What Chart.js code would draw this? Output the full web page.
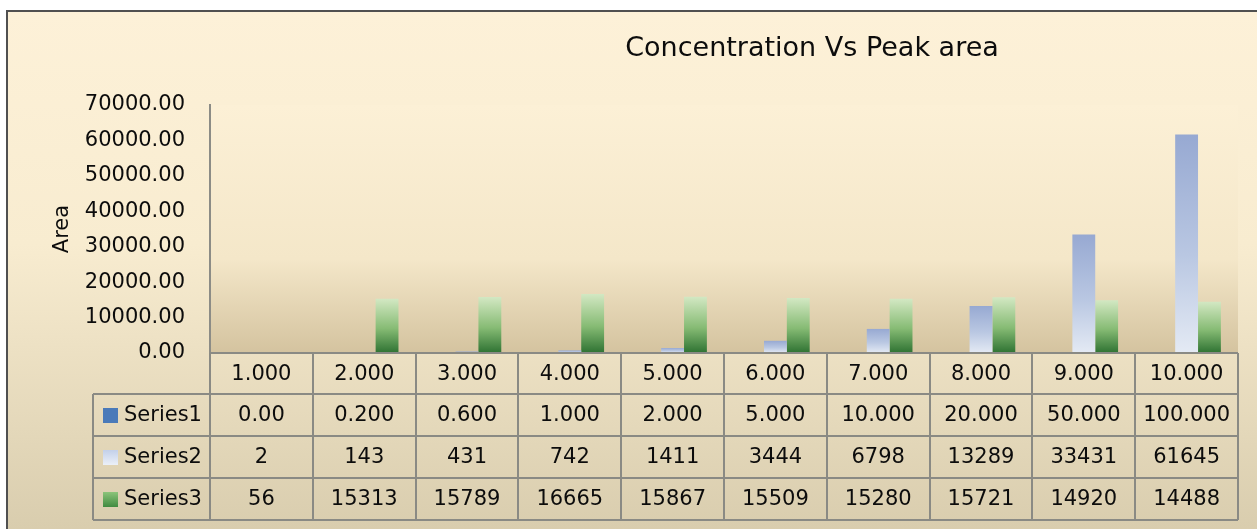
<!DOCTYPE html>
<html>
<head>
<meta charset="utf-8">
<title>Concentration Vs Peak area</title>
<script src="https://cdn.jsdelivr.net/npm/chart.js@4.4.1/dist/chart.umd.min.js"></script>
<style>
  html, body { margin: 0; padding: 0; background: #ffffff; }
  #wrap { width: 1257px; height: 529px; position: relative; }
</style>
</head>
<body>
<div id="wrap"><canvas id="chart" width="1257" height="529"></canvas></div>
<script>
// ---- data ----
const categories = ["1.000", "2.000", "3.000", "4.000", "5.000", "6.000", "7.000", "8.000", "9.000", "10.000"];
const seriesNames = ["Series1", "Series2", "Series3"];
const series1 = [0, 0.2, 0.6, 1, 2, 5, 10, 20, 50, 100];
const series1Text = ["0.00", "0.200", "0.600", "1.000", "2.000", "5.000", "10.000", "20.000", "50.000", "100.000"];
const series2 = [2, 143, 431, 742, 1411, 3444, 6798, 13289, 33431, 61645];
const series3 = [56, 15313, 15789, 16665, 15867, 15509, 15280, 15721, 14920, 14488];
const yMax = 70000;
const yStep = 10000;
const chartTitle = "Concentration Vs Peak area";
const yTitle = "Area";

const FONT = "'DejaVu Sans', Verdana, sans-serif";
const INK = "#0c0c0c";

// vertical gradient per bar, from its top down to the zero line
function barGradient(top, mid, bottom) {
  return function(ctx) {
    const chart = ctx.chart;
    if (!chart.chartArea || ctx.type !== "data") return bottom;
    const y = chart.scales.y.getPixelForValue(ctx.raw);
    const base = chart.scales.y.getPixelForValue(0);
    if (base - y < 1) return bottom;
    const g = chart.ctx.createLinearGradient(0, y, 0, base);
    g.addColorStop(0, top);
    g.addColorStop(0.55, mid);
    g.addColorStop(1, bottom);
    return g;
  };
}

// swatch colours for the table legend
const swatches = [
  ["#4a7ab9", "#4a7ab9"],
  ["#c3d0e9", "#eef2f9"],
  ["#8cc47a", "#3c873d"]
];

// background + frame + plot area shading
const backdrop = {
  id: "backdrop",
  beforeDraw(chart) {
    const c = chart.ctx, a = chart.chartArea;
    c.save();
    c.fillStyle = "#ffffff";
    c.fillRect(0, 0, chart.width, chart.height);
    const g = c.createLinearGradient(0, 11, 0, chart.height);
    g.addColorStop(0, "#fdf1d8");
    g.addColorStop(0.45, "#f8ecd0");
    g.addColorStop(1, "#d9cdae");
    c.fillStyle = g;
    c.fillRect(7, 11, chart.width - 7, chart.height - 11);
    // plot area gets its own darker foot
    const p = c.createLinearGradient(0, a.top, 0, a.bottom);
    p.addColorStop(0, "#fcf0d6");
    p.addColorStop(0.62, "#f4e7c9");
    p.addColorStop(1, "#d4c39f");
    c.fillStyle = p;
    c.fillRect(a.left, a.top, a.right - a.left, a.bottom - a.top);
    // frame
    c.strokeStyle = "#505050";
    c.lineWidth = 2;
    c.beginPath();
    c.moveTo(7, chart.height);
    c.lineTo(7, 11);
    c.lineTo(chart.width, 11);
    c.stroke();
    c.restore();
  }
};

// title + data table under the plot
const tableAndTitle = {
  id: "tableAndTitle",
  afterDraw(chart) {
    const c = chart.ctx, a = chart.chartArea, xs = chart.scales.x;
    const colW = xs.getPixelForValue(1) - xs.getPixelForValue(0);
    const legendLeft = 93;
    const rows = [a.bottom, 394, 436, 478, 520];
    c.save();

    // title
    c.fillStyle = INK;
    c.font = "27px " + FONT;
    c.textAlign = "center";
    c.textBaseline = "middle";
    c.fillText(chartTitle, 812, 49);

    // grid lines
    c.strokeStyle = "#8a8a84";
    c.lineWidth = 2;
    c.beginPath();
    c.moveTo(a.left, rows[0]);
    c.lineTo(a.right, rows[0]);
    for (let r = 1; r < rows.length; r++) {
      c.moveTo(legendLeft, rows[r]);
      c.lineTo(a.right, rows[r]);
    }
    c.moveTo(legendLeft, rows[1]);
    c.lineTo(legendLeft, rows[4]);
    for (let i = 0; i <= categories.length; i++) {
      const x = Math.round(xs.getPixelForValue(i) - colW / 2);
      c.moveTo(x, rows[0]);
      c.lineTo(x, rows[4]);
    }
    c.stroke();

    // header row
    c.font = "21px " + FONT;
    c.fillStyle = INK;
    c.textAlign = "center";
    categories.forEach((cat, i) => {
      c.fillText(cat, xs.getPixelForValue(i), (rows[0] + rows[1]) / 2 + 1);
    });

    // series rows
    const rowText = [series1Text, series2.map(String), series3.map(String)];
    rowText.forEach((vals, r) => {
      const yMid = (rows[r + 1] + rows[r + 2]) / 2 + 1;
      vals.forEach((v, i) => {
        c.textAlign = "center";
        c.fillText(v, xs.getPixelForValue(i), yMid);
      });
      // legend swatch + name
      const sg = c.createLinearGradient(0, yMid - 8, 0, yMid + 8);
      sg.addColorStop(0, swatches[r][0]);
      sg.addColorStop(1, swatches[r][1]);
      c.fillStyle = sg;
      c.fillRect(103, yMid - 8, 15, 15);
      c.fillStyle = INK;
      c.textAlign = "left";
      c.fillText(seriesNames[r], 124, yMid);
    });
    c.restore();
  }
};

new Chart(document.getElementById("chart"), {
  type: "bar",
  data: {
    labels: categories,
    datasets: [
      { label: seriesNames[0], data: series1, backgroundColor: "#4a7ab9" },
      { label: seriesNames[1], data: series2, backgroundColor: barGradient("#97a9d2", "#b9c7e2", "#e4eaf4") },
      { label: seriesNames[2], data: series3, backgroundColor: barGradient("#d3e8c3", "#86bb74", "#2e7232") }
    ]
  },
  options: {
    responsive: false,
    devicePixelRatio: 1,
    animation: false,
    layout: { padding: { left: 50, top: 105, right: 19, bottom: 176 } },
    datasets: { bar: { categoryPercentage: 0.667, barPercentage: 1.0 } },
    plugins: {
      legend: { display: false },
      title: { display: false },
      tooltip: { enabled: false }
    },
    scales: {
      x: { display: false, offset: true },
      y: {
        min: 0,
        max: yMax,
        afterFit(scale) { scale.width = 160; },
        ticks: {
          stepSize: yStep,
          padding: 25,
          color: INK,
          font: { family: FONT, size: 21 },
          callback: v => Number(v).toFixed(2)
        },
        grid: { display: false, drawTicks: false },
        border: { display: true, color: "#8c8c86", width: 2 },
        title: {
          display: true,
          text: yTitle,
          color: INK,
          padding: 0,
          font: { family: FONT, size: 21 }
        }
      }
    }
  },
  plugins: [backdrop, tableAndTitle]
});
</script>
</body>
</html>
